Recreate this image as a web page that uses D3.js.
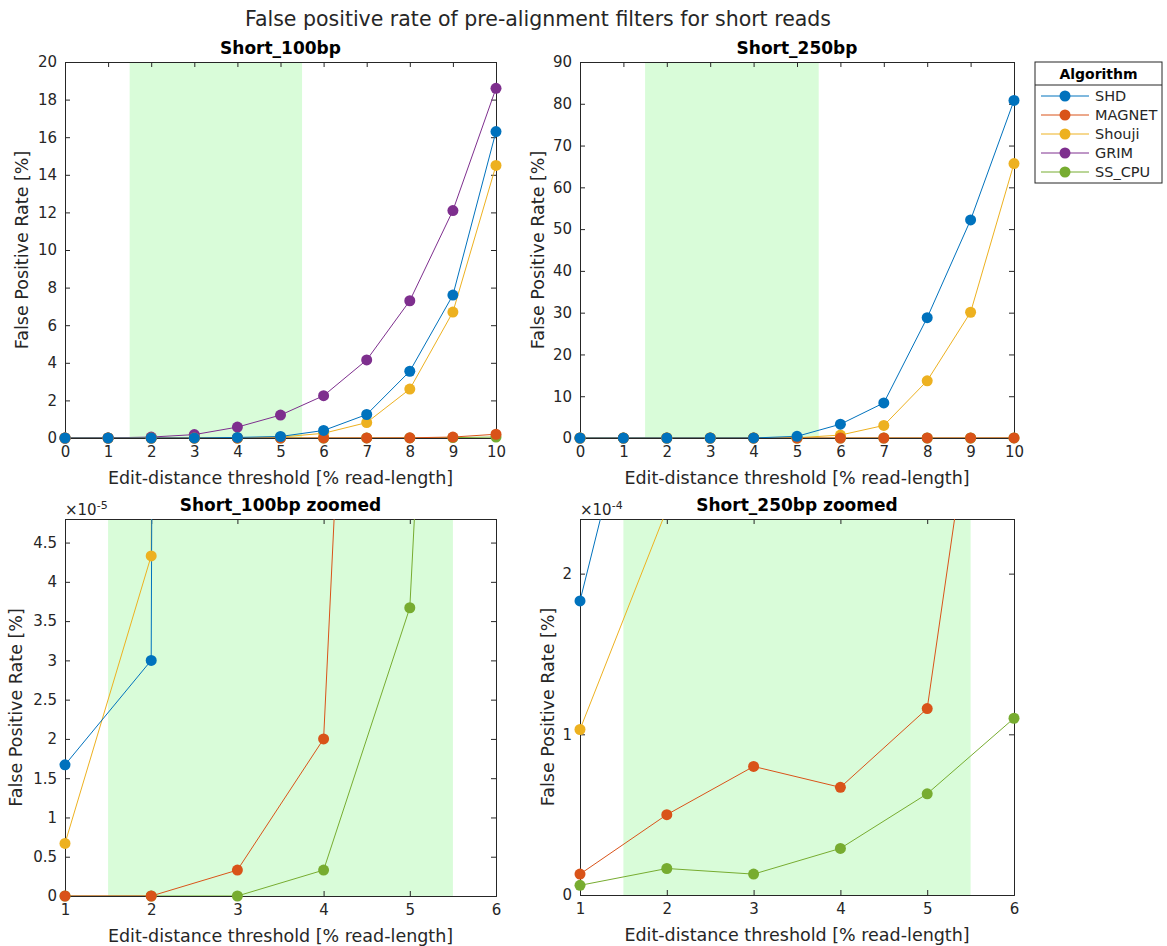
<!DOCTYPE html>
<html>
<head>
<meta charset="utf-8">
<script src="https://cdn.jsdelivr.net/npm/d3@7"></script>
<style>
  body { margin: 0; background: #fff; }
  svg { font-family: "DejaVu Sans", sans-serif; }
  .tick text { fill: #262626; }
</style>
</head>
<body>
<svg id="chart" width="1167" height="946"></svg>
<script>
// thresholds (% of read length)
const thresholds = [0, 1, 2, 3, 4, 5, 6, 7, 8, 9, 10];
const algorithms = ["SHD", "MAGNET", "Shouji", "GRIM", "SS_CPU"];
const colors = ["#0072BD", "#D95319", "#EDB120", "#7E2F8E", "#77AC30"];

// false positive rate [%], Short_100bp
const shd100    = [0, 1.67e-5, 3.0e-5, 0.003, 0.03, 0.08, 0.4, 1.25, 3.55, 7.6, 16.3];
const magnet100 = [0, 0, 0, 0.33e-5, 2.0e-5, 2.5e-4, 0.002, 0.005, 0.01, 0.05, 0.2];
const shouji100 = [0, 0.67e-5, 4.33e-5, 0.002, 0.01, 0.05, 0.25, 0.82, 2.6, 6.7, 14.5];
const grim100   = [0, 0.005, 0.05, 0.18, 0.58, 1.22, 2.25, 4.15, 7.3, 12.1, 18.6];
const sscpu100  = [0, 0, 0, 0, 0.33e-5, 3.67e-5, 2.5e-4, 0.001, 0.005, 0.02, 0.05];

// false positive rate [%], Short_250bp (no GRIM run)
const shd250    = [0, 1.83e-4, 4.0e-4, 0.002, 0.01, 0.4, 3.3, 8.4, 28.8, 52.2, 80.8];
const magnet250 = [0, 0.13e-4, 0.5e-4, 0.8e-4, 0.67e-4, 1.16e-4, 4.9e-4, 0.002, 0.005, 0.01, 0.02];
const shouji250 = [0, 1.03e-4, 2.4e-4, 0.001, 0.005, 0.05, 0.7, 3.0, 13.7, 30.1, 65.7];
const grim250   = null;
const sscpu250  = [0, 0.06e-4, 0.165e-4, 0.13e-4, 0.29e-4, 0.63e-4, 1.1e-4, 3e-4, 0.001, 0.002, 0.005];

const series100 = [shd100, magnet100, shouji100, grim100, sscpu100];
const series250 = [shd250, magnet250, shouji250, grim250, sscpu250];

// tick labels
const yTicksTopLeft = [0, 2, 4, 6, 8, 10, 12, 14, 16, 18, 20];
const yTicksTopRight = [0, 10, 20, 30, 40, 50, 60, 70, 80, 90];
const yTicksZoom100 = [0, 0.5, 1, 1.5, 2, 2.5, 3, 3.5, 4, 4.5];
const yTicksZoom250 = [0, 1, 2];
const band = [1.5, 5.5];

const svg = d3.select("#chart");
const axisColor = "#262626";

svg.append("text")
    .attr("x", 538).attr("y", 26)
    .attr("text-anchor", "middle")
    .style("font-size", "20.5px")
    .style("fill", axisColor)
    .text("False positive rate of pre-alignment filters for short reads");

let clipId = 0;

function drawPanel(p) {
    let x = d3.scaleLinear().domain(p.xDomain).range([p.left, p.right]);
    let y = d3.scaleLinear().domain(p.yDomain).range([p.bottom, p.top]);
    let id = "clip" + (clipId++);

    svg.append("clipPath").attr("id", id)
        .append("rect")
        .attr("x", p.left).attr("y", p.top)
        .attr("width", p.right - p.left).attr("height", p.bottom - p.top);

    // highlighted threshold band
    svg.append("rect")
        .attr("clip-path", "url(#" + id + ")")
        .attr("x", x(band[0])).attr("y", p.top)
        .attr("width", x(band[1]) - x(band[0]))
        .attr("height", p.bottom - p.top)
        .style("fill", "#d9fcd9");

    let fmt = function (d) { return String(d); };

    let bottomAxis = svg.append("g")
        .attr("transform", "translate(0," + p.bottom + ")")
        .call(d3.axisBottom(x).tickValues(p.xTicks).tickSize(-5).tickPadding(8).tickFormat(fmt));
    let leftAxis = svg.append("g")
        .attr("transform", "translate(" + p.left + ",0)")
        .call(d3.axisLeft(y).tickValues(p.yTicks).tickSize(-5).tickPadding(8).tickFormat(fmt));
    let topAxis = svg.append("g")
        .attr("transform", "translate(0," + p.top + ")")
        .call(d3.axisTop(x).tickValues(p.xTicks).tickSize(-5).tickFormat(""));
    let rightAxis = svg.append("g")
        .attr("transform", "translate(" + p.right + ",0)")
        .call(d3.axisRight(y).tickValues(p.yTicks).tickSize(-5).tickFormat(""));

    [bottomAxis, leftAxis, topAxis, rightAxis].forEach(function (a) {
        a.selectAll("path.domain").style("stroke", axisColor).style("stroke-width", "1px");
        a.selectAll(".tick line").style("stroke", axisColor);
        a.selectAll(".tick text")
            .style("font-size", "15px")
            .style("font-family", "DejaVu Sans, sans-serif");
    });

    let lines = svg.append("g").attr("clip-path", "url(#" + id + ")");
    let marks = svg.append("g");

    // draw last algorithm first so SHD ends up on top
    for (let k = algorithms.length - 1; k >= 0; k--) {
        let vals = p.series[k];
        if (!vals) continue;
        let pts = thresholds.map(function (t, i) { return [t, vals[i] / p.scale]; });
        let line = d3.line()
            .x(function (d) { return x(d[0]); })
            .y(function (d) { return y(d[1]); });
        lines.append("path")
            .attr("d", line(pts))
            .style("fill", "none")
            .style("stroke", colors[k])
            .style("stroke-width", "1px");
        // markers are kept whole, but only when their centre lies inside the axes
        let inside = pts.filter(function (d) {
            return d[0] >= p.xDomain[0] && d[0] <= p.xDomain[1] &&
                   d[1] >= p.yDomain[0] && d[1] <= p.yDomain[1];
        });
        marks.selectAll(null)
            .data(inside)
            .enter().append("circle")
            .attr("cx", function (d) { return x(d[0]); })
            .attr("cy", function (d) { return y(d[1]); })
            .attr("r", 5.5)
            .style("fill", colors[k]);
    }

    svg.append("text")
        .attr("x", (p.left + p.right) / 2).attr("y", p.top - 8)
        .attr("text-anchor", "middle")
        .style("font-size", "17px")
        .style("font-weight", "bold")
        .style("fill", "#000")
        .text(p.title);

    svg.append("text")
        .attr("x", (p.left + p.right) / 2).attr("y", p.bottom + 46)
        .attr("text-anchor", "middle")
        .style("font-size", "17.5px")
        .style("fill", axisColor)
        .text("Edit-distance threshold [% read-length]");

    svg.append("text")
        .attr("transform", "translate(" + p.yLabelX + "," + ((p.top + p.bottom) / 2) + ") rotate(-90)")
        .attr("text-anchor", "middle")
        .style("font-size", "17.5px")
        .style("fill", axisColor)
        .text("False Positive Rate [%]");

    if (p.exponent) {
        let ex = svg.append("text")
            .attr("x", p.left).attr("y", p.top - 4)
            .style("font-size", "15px")
            .style("fill", axisColor);
        ex.append("tspan").text("\u00d710");
        ex.append("tspan").attr("dy", -6).style("font-size", "11px").text(p.exponent);
    }
}

drawPanel({
    title: "Short_100bp", series: series100, scale: 1,
    left: 65, right: 496, top: 62, bottom: 438, yLabelX: 28,
    xDomain: [0, 10], yDomain: [0, 20],
    xTicks: thresholds, yTicks: yTicksTopLeft
});
drawPanel({
    title: "Short_250bp", series: series250, scale: 1,
    left: 580, right: 1014, top: 62, bottom: 438, yLabelX: 544,
    xDomain: [0, 10], yDomain: [0, 90],
    xTicks: thresholds, yTicks: yTicksTopRight
});
drawPanel({
    title: "Short_100bp zoomed", series: series100, scale: 1e-5,
    left: 65, right: 496, top: 519, bottom: 896, yLabelX: 22,
    xDomain: [1, 6], yDomain: [0, 4.8],
    xTicks: [1, 2, 3, 4, 5, 6], yTicks: yTicksZoom100, exponent: "-5"
});
drawPanel({
    title: "Short_250bp zoomed", series: series250, scale: 1e-4,
    left: 580, right: 1014, top: 519, bottom: 895, yLabelX: 554,
    xDomain: [1, 6], yDomain: [0, 2.34],
    xTicks: [1, 2, 3, 4, 5, 6], yTicks: yTicksZoom250, exponent: "-4"
});

// legend
let lg = svg.append("g").attr("transform", "translate(1035,62)");
lg.append("rect")
    .attr("width", 127).attr("height", 121)
    .style("fill", "#fff").style("stroke", axisColor).style("stroke-width", "1px");
lg.append("line")
    .attr("x1", 0).attr("x2", 127).attr("y1", 23).attr("y2", 23)
    .style("stroke", axisColor);
lg.append("text")
    .attr("x", 63.5).attr("y", 17)
    .attr("text-anchor", "middle")
    .style("font-size", "14px").style("font-weight", "bold")
    .text("Algorithm");
let items = lg.selectAll("g.item")
    .data(algorithms)
    .enter().append("g")
    .attr("class", "item")
    .attr("transform", function (d, i) { return "translate(0," + (34 + i * 19) + ")"; });
items.append("line")
    .attr("x1", 6).attr("x2", 54)
    .style("stroke", function (d, i) { return colors[i]; })
    .style("stroke-width", "1px");
items.append("circle")
    .attr("cx", 30).attr("r", 5.5)
    .style("fill", function (d, i) { return colors[i]; });
items.append("text")
    .attr("x", 60).attr("y", 5)
    .style("font-size", "14.5px")
    .style("fill", axisColor)
    .text(function (d) { return d; });
</script>
</body>
</html>
